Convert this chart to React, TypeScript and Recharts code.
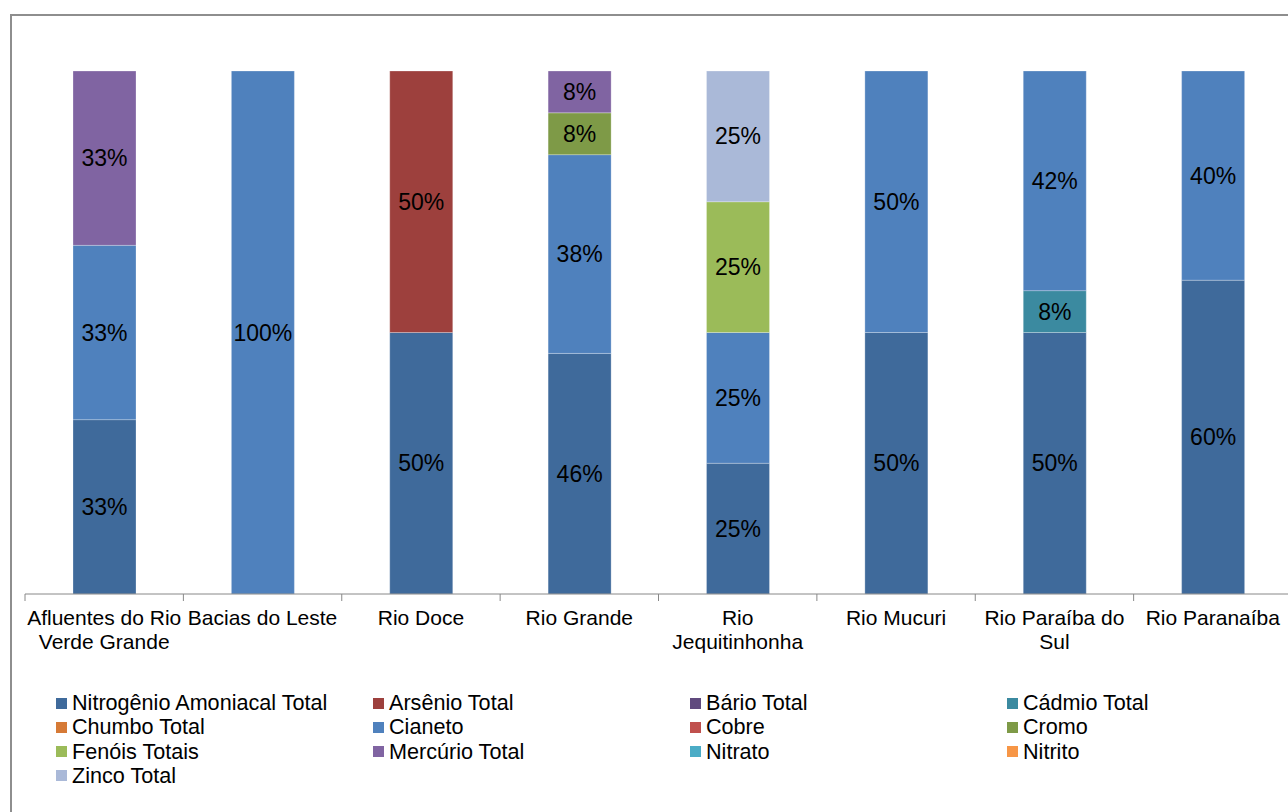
import { BarChart, Bar, XAxis, YAxis, LabelList } from 'recharts';

const FONT = '"Liberation Sans", Arial, sans-serif';

// River basins along the x axis, and the wrapped lines of each tick label
const categories = [
  'Afluentes do Rio Verde Grande',
  'Bacias do Leste',
  'Rio Doce',
  'Rio Grande',
  'Rio Jequitinhonha',
  'Rio Mucuri',
  'Rio Paraíba do Sul',
  'Rio Paranaíba',
];
const categoryLines = [
  ['Afluentes do Rio', 'Verde Grande'],
  ['Bacias do Leste'],
  ['Rio Doce'],
  ['Rio Grande'],
  ['Rio', 'Jequitinhonha'],
  ['Rio Mucuri'],
  ['Rio Paraíba do', 'Sul'],
  ['Rio Paranaíba'],
];

// Share (%) of each parameter per basin
const nitrogenio = [33, 0, 50, 46, 25, 50, 50, 60];
const arsenio = [0, 0, 50, 0, 0, 0, 0, 0];
const bario = [0, 0, 0, 0, 0, 0, 0, 0];
const cadmio = [0, 0, 0, 0, 0, 0, 8, 0];
const chumbo = [0, 0, 0, 0, 0, 0, 0, 0];
const cianeto = [33, 100, 0, 38, 25, 50, 42, 40];
const cobre = [0, 0, 0, 0, 0, 0, 0, 0];
const cromo = [0, 0, 0, 8, 0, 0, 0, 0];
const fenois = [0, 0, 0, 0, 25, 0, 0, 0];
const mercurio = [33, 0, 0, 8, 0, 0, 0, 0];
const nitrato = [0, 0, 0, 0, 0, 0, 0, 0];
const nitrito = [0, 0, 0, 0, 0, 0, 0, 0];
const zinco = [0, 0, 0, 0, 25, 0, 0, 0];

const series = [
  { key: 'nitrogenio', name: 'Nitrogênio Amoniacal Total', color: '#3F6A9B', values: nitrogenio },
  { key: 'arsenio', name: 'Arsênio Total', color: '#9D403D', values: arsenio },
  { key: 'bario', name: 'Bário Total', color: '#604A7E', values: bario },
  { key: 'cadmio', name: 'Cádmio Total', color: '#3B8AA0', values: cadmio },
  { key: 'chumbo', name: 'Chumbo Total', color: '#D67A36', values: chumbo },
  { key: 'cianeto', name: 'Cianeto', color: '#4F81BD', values: cianeto },
  { key: 'cobre', name: 'Cobre', color: '#C0504D', values: cobre },
  { key: 'cromo', name: 'Cromo', color: '#7E9A47', values: cromo },
  { key: 'fenois', name: 'Fenóis Totais', color: '#9BBB59', values: fenois },
  { key: 'mercurio', name: 'Mercúrio Total', color: '#8064A2', values: mercurio },
  { key: 'nitrato', name: 'Nitrato', color: '#4BACC6', values: nitrato },
  { key: 'nitrito', name: 'Nitrito', color: '#F79646', values: nitrito },
  { key: 'zinco', name: 'Zinco Total', color: '#AAB9D8', values: zinco },
];

const data = categories.map((name, i) => {
  const row: Record<string, string | number> = { name };
  series.forEach((s) => {
    row[s.key] = s.values[i];
  });
  return row;
});

const CHART_W = 1320;
const CHART_H = 812;
const AXIS_H = 30;
const MARGIN = { top: 71, right: 28, bottom: 188, left: 25 };
const AXIS_Y = CHART_H - MARGIN.bottom - AXIS_H;
const BAND = (CHART_W - MARGIN.left - MARGIN.right) / categories.length;

const CategoryTick = (props: any) => {
  const { x, index } = props;
  const lines = categoryLines[index] || [];
  const last = index === categories.length - 1;
  return (
    <g>
      <line x1={x - BAND / 2} x2={x - BAND / 2} y1={AXIS_Y} y2={AXIS_Y + 7} stroke="#888" />
      {last && (
        <line x1={x + BAND / 2} x2={x + BAND / 2} y1={AXIS_Y} y2={AXIS_Y + 7} stroke="#888" />
      )}
      <text x={x} y={AXIS_Y + 31} textAnchor="middle" fontSize={21} fontFamily={FONT} fill="#000">
        {lines.map((l, i) => (
          <tspan key={l} x={x} dy={i === 0 ? 0 : 24}>
            {l}
          </tspan>
        ))}
      </text>
    </g>
  );
};

const SegmentLabel = (props: any) => {
  const { x, y, width, height, value } = props;
  if (!value) return null;
  return (
    <text
      x={x + width / 2}
      y={y + height / 2 + 8}
      textAnchor="middle"
      fontSize={23}
      fontFamily={FONT}
      fill="#000"
    >
      {`${value}%`}
    </text>
  );
};

// Four-column legend laid out row by row under the axis
const LegendGrid = () => (
  <div
    style={{
      position: 'absolute',
      left: 0,
      top: 691,
      width: CHART_W,
      height: 100,
      fontFamily: FONT,
      fontSize: 21.6,
    }}
  >
    {series.map((s, i) => (
      <div
        key={s.key}
        style={{
          position: 'absolute',
          left: 56 + (i % 4) * 317,
          top: Math.floor(i / 4) * 24.3,
          height: 24,
          lineHeight: '24px',
          display: 'flex',
          alignItems: 'center',
          whiteSpace: 'nowrap',
          color: '#000',
        }}
      >
        <span
          style={{
            display: 'inline-block',
            width: 11,
            height: 11,
            background: s.color,
            marginRight: 5,
          }}
        />
        {s.name}
      </div>
    ))}
  </div>
);

export default function App() {
  return (
    <div
      style={{
        position: 'fixed',
        left: 0,
        top: 0,
        width: 1288,
        height: 812,
        overflow: 'hidden',
        background: '#fff',
      }}
    >
      <div
        style={{
          position: 'absolute',
          left: 10,
          top: 14,
          right: -20,
          bottom: -20,
          borderLeft: '2px solid #8e8e8e',
          borderTop: '2px solid #8e8e8e',
        }}
      />
      <div style={{ position: 'absolute', left: 0, top: 0 }}>
        <BarChart
          width={CHART_W}
          height={CHART_H}
          data={data}
          margin={MARGIN}
          stackOffset="expand"
          barSize={63}
        >
          <XAxis
            dataKey="name"
            stroke="#888"
            tickLine={false}
            interval={0}
            tick={<CategoryTick />}
            height={AXIS_H}
          />
          <YAxis hide domain={[0, 1]} />
          {series.map((s) => (
            <Bar
              key={s.key}
              dataKey={s.key}
              name={s.name}
              stackId="total"
              fill={s.color}
              stroke="#ffffff"
              strokeOpacity={0.35}
              strokeWidth={0.75}
              isAnimationActive={false}
            >
              <LabelList dataKey={s.key} content={<SegmentLabel />} />
            </Bar>
          ))}
        </BarChart>
      </div>
      <LegendGrid />
    </div>
  );
}
